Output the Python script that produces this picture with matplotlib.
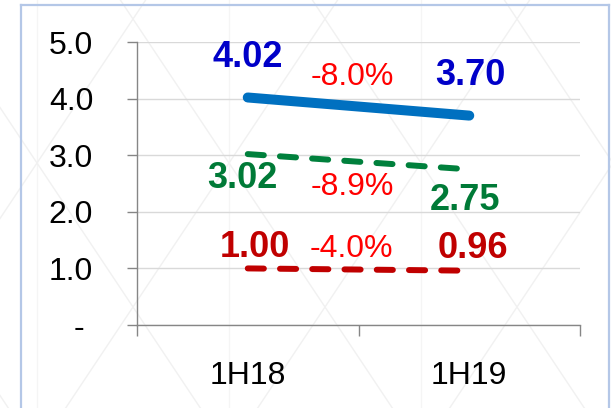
import matplotlib.pyplot as plt
from matplotlib.lines import Line2D

plt.rcParams['font.family'] = ['Liberation Sans', 'DejaVu Sans']

periods = ['1H18', '1H19']
blue_vals = [4.02, 3.70]
green_vals = [3.02, 2.75]
red_vals = [1.00, 0.96]
y_ticks = [0, 1, 2, 3, 4, 5]
y_labels = ['- ', '1.0', '2.0', '3.0', '4.0', '5.0']

W, H = 611, 408
fig = plt.figure(figsize=(W / 100, H / 100), dpi=100)

# faint background pattern of the slide (pixel coords -> figure coords)
def px_line(x0, y0, x1, y1, **kw):
    fig.add_artist(Line2D([x0 / W, x1 / W], [1 - y0 / H, 1 - y1 / H], **kw))

for vx in [37, 229, 421]:
    px_line(vx, 0, vx, H, color='#f5f5f5', lw=1, zorder=0)
slope = 1.5
for cx in [-59, 133, 325, 517, 709]:
    for sgn in (1, -1):
        px_line(cx - 400, 307 - sgn * 400 * slope, cx + 400, 307 + sgn * 400 * slope,
                color='#f1f1f1', lw=1, zorder=0)

ax = fig.add_axes([0.2242, 0.2034, 0.7251, 0.6936])
ax.patch.set_alpha(0)

x = [0, 1]
ax.plot(x, blue_vals, color='#0070c0', lw=7.2, solid_capstyle='round', zorder=3)
ax.plot(x, green_vals, color='#00803c', lw=4.3, dashes=(2.7, 2.7),
        dash_capstyle='round', zorder=3)
ax.plot(x, red_vals, color='#c00000', lw=4.3, dashes=(2.7, 2.7),
        dash_capstyle='round', zorder=3)

ax.set_xlim(-0.5, 1.5)
ax.set_ylim(0, 5)
ax.set_yticks(y_ticks)
ax.set_yticklabels(y_labels)
ax.set_xticks([-0.5, 0.5, 1.5])
ax.set_xticklabels([])
ax.set_xticks(x, minor=True)
ax.set_xticklabels(periods, minor=True)
ax.tick_params(axis='x', which='major', length=8, color='#868686', width=1)
ax.tick_params(axis='x', which='minor', length=0, pad=26, labelsize=23)
ax.tick_params(axis='y', length=7.5, color='#868686', width=1, pad=24, labelsize=23)

ax.grid(axis='y', color='#d9d9d9', lw=1)
ax.set_axisbelow(True)
for s in ['top', 'right']:
    ax.spines[s].set_visible(False)
for s in ['left', 'bottom']:
    ax.spines[s].set_color('#868686')
    ax.spines[s].set_linewidth(1)

# value labels
fs = 26
ax.text(0, blue_vals[0] + 0.54, f'{blue_vals[0]:.2f}', color='#0000c8', fontsize=fs,
        fontweight='bold', ha='center', va='baseline')
ax.text(1.005, blue_vals[1] + 0.54, f'{blue_vals[1]:.2f}', color='#0000c8', fontsize=fs,
        fontweight='bold', ha='center', va='baseline')
ax.text(-0.023, green_vals[0] - 0.60, f'{green_vals[0]:.2f}', color='#007a37', fontsize=fs,
        fontweight='bold', ha='center', va='baseline')
ax.text(0.982, green_vals[1] - 0.72, f'{green_vals[1]:.2f}', color='#007a37', fontsize=fs,
        fontweight='bold', ha='center', va='baseline')
ax.text(0.032, red_vals[0] + 0.20, f'{red_vals[0]:.2f}', color='#c00000', fontsize=fs,
        fontweight='bold', ha='center', va='baseline')
ax.text(1.018, red_vals[1] + 0.22, f'{red_vals[1]:.2f}', color='#c00000', fontsize=fs,
        fontweight='bold', ha='center', va='baseline')

# change labels
for vals, ypos in [(blue_vals, 4.24), (green_vals, 2.30), (red_vals, 1.20)]:
    pct = (vals[1] / vals[0] - 1) * 100
    ax.text(0.47, ypos, f'{pct:.1f}%', color='#ff0000', fontsize=23,
            ha='center', va='baseline')

# slide border
px_line(21, 5, 21, H, color='#b4c7e7', lw=1.6)
px_line(21, 5, 609, 5, color='#b4c7e7', lw=1.6)
px_line(609, 5, 609, H, color='#b4c7e7', lw=1.6)

fig.savefig('out.png', dpi=100)
